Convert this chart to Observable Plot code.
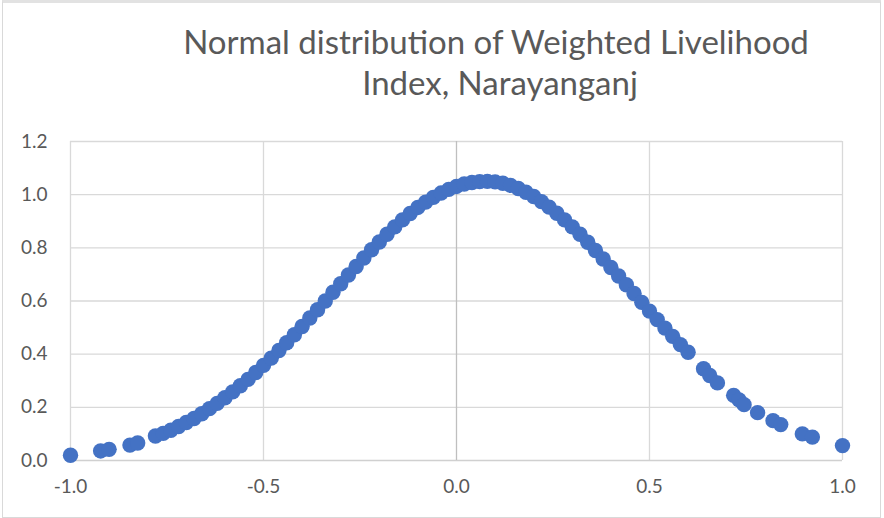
<!DOCTYPE html>
<html>
<head>
<meta charset="utf-8">
<script src="https://cdn.jsdelivr.net/npm/d3@7"></script>
<script src="https://cdn.jsdelivr.net/npm/@observablehq/plot@0.6"></script>
<style>
  html, body { margin: 0; padding: 0; background: #fff; }
  #wrap { position: relative; width: 884px; height: 518px; overflow: hidden; background: #fff; }
  #frame { position: absolute; left: 2px; top: 0; width: 877px; height: 514px; border: 1px solid #d9d9d9; border-top: 3px solid #e2e2e2; pointer-events: none; }
  #title { position: absolute; left: 0; top: 0; width: 884px; height: 120px; }
  #title div { position: absolute; width: 884px; text-align: center; font-family: Lato, "Open Sans", sans-serif; font-weight: 400; font-size: 33px; color: #595959; white-space: nowrap; }
  #chart { position: absolute; left: 0; top: 120px; }
</style>
</head>
<body>
<div id="wrap">
  <div id="title">
    <div id="t1" style="top:21px; left:54px;">Normal distribution of Weighted Livelihood</div>
    <div id="t2" style="top:62px; left:58px;">Index, Narayanganj</div>
  </div>
  <div id="chart"></div>
  <div id="frame"></div>
</div>
<script>
// x positions of the plotted points (Weighted Livelihood Index)
const xValues = [
  -1.00, -0.922, -0.900, -0.846, -0.826,
  -0.78, -0.76, -0.74, -0.72, -0.70, -0.68, -0.66, -0.64, -0.62, -0.60,
  -0.58, -0.56, -0.54, -0.52, -0.50, -0.48, -0.46, -0.44, -0.42, -0.40,
  -0.38, -0.36, -0.34, -0.32, -0.30, -0.28, -0.26, -0.24, -0.22, -0.20,
  -0.18, -0.16, -0.14, -0.12, -0.10, -0.08, -0.06, -0.04, -0.02, 0.00,
  0.02, 0.04, 0.06, 0.08, 0.10, 0.12, 0.14, 0.16, 0.18, 0.20,
  0.22, 0.24, 0.26, 0.28, 0.30, 0.32, 0.34, 0.36, 0.38, 0.40,
  0.42, 0.44, 0.46, 0.48, 0.50, 0.52, 0.54, 0.56, 0.58, 0.60,
  0.640, 0.656, 0.676, 0.718, 0.732, 0.745, 0.780,
  0.820, 0.840, 0.896, 0.922, 1.00
];
// normal density values
const yValues = [
  0.020, 0.036, 0.042, 0.058, 0.066,
  0.092, 0.102, 0.114, 0.128, 0.143, 0.158, 0.176, 0.195, 0.215, 0.236,
  0.258, 0.281, 0.305, 0.331, 0.358, 0.385, 0.414, 0.443, 0.473, 0.504,
  0.536, 0.567, 0.600, 0.633, 0.665, 0.698, 0.730, 0.762, 0.793, 0.822,
  0.851, 0.879, 0.905, 0.929, 0.952, 0.972, 0.990, 1.006, 1.020, 1.031,
  1.040, 1.046, 1.049, 1.050, 1.048, 1.043, 1.035, 1.023, 1.009, 0.993,
  0.974, 0.953, 0.930, 0.905, 0.879, 0.851, 0.821, 0.790, 0.758, 0.726,
  0.694, 0.661, 0.628, 0.595, 0.562, 0.530, 0.498, 0.467, 0.436, 0.407,
  0.345, 0.320, 0.292, 0.245, 0.228, 0.210, 0.180,
  0.150, 0.135, 0.100, 0.088, 0.056
];
const xTicks = [-1.0, -0.5, 0.0, 0.5, 1.0];
const yTicks = [0.0, 0.2, 0.4, 0.6, 0.8, 1.0, 1.2];

const points = xValues.map((x, i) => ({x, y: yValues[i]}));
const fmt = d => d.toFixed(1);

const chart = Plot.plot({
  width: 884,
  height: 398,
  marginTop: 21,
  marginBottom: 58,
  marginLeft: 70,
  marginRight: 42,
  x: {domain: [-1, 1], label: null},
  y: {domain: [0, 1.2], label: null},
  style: {fontFamily: "Lato, 'Open Sans', sans-serif", fontSize: "19px", color: "#595959", background: "transparent"},
  marks: [
    Plot.ruleX(xTicks.filter(d => d !== 0), {stroke: "#d9d9d9", strokeWidth: 1.3}),
    Plot.ruleY(yTicks.filter(d => d !== 0), {stroke: "#d9d9d9", strokeWidth: 1.3}),
    Plot.ruleY([0], {stroke: "#d0d0d0", strokeWidth: 1.3}),
    Plot.ruleX([0], {stroke: "#bfbfbf", strokeWidth: 1.3}),
    Plot.dot(points, {x: "x", y: "y", r: 7.7, fill: "#4472C4", stroke: "none"}),
    Plot.axisX({ticks: xTicks, tickFormat: fmt, tickSize: 0, tickPadding: 19, fill: "#595959", label: null}),
    Plot.axisY({ticks: yTicks, tickFormat: fmt, tickSize: 0, tickPadding: 23, fill: "#595959", label: null})
  ]
});
document.getElementById("chart").appendChild(chart);
</script>
</body>
</html>
